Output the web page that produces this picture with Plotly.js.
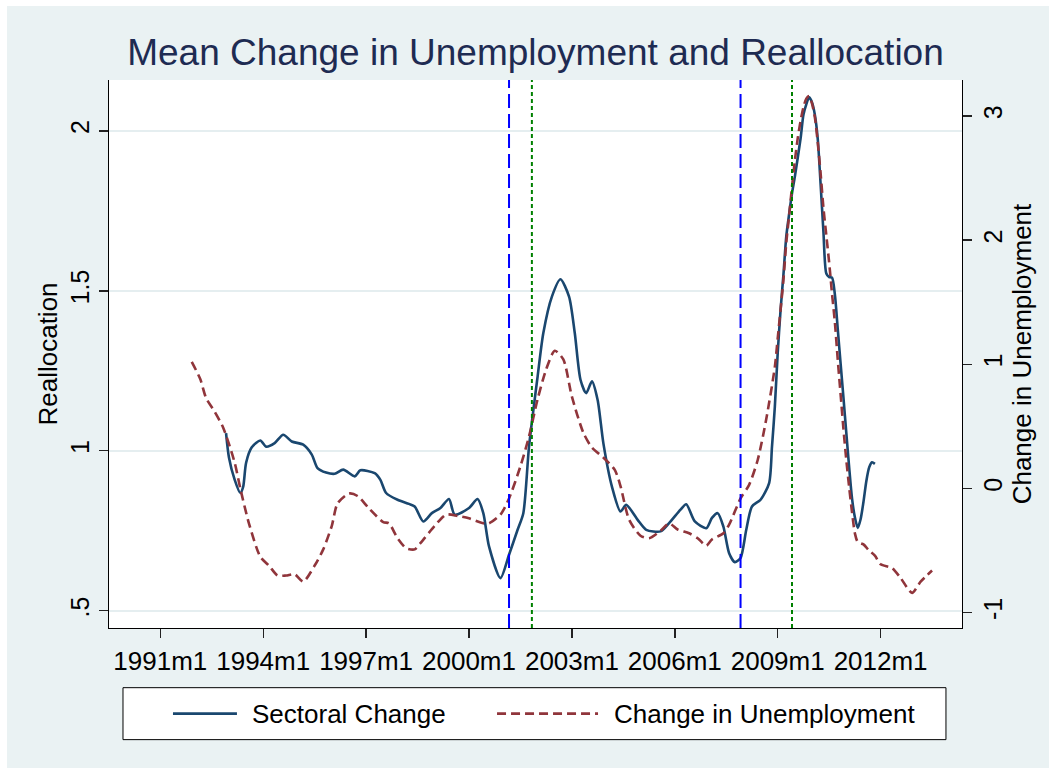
<!DOCTYPE html>
<html>
<head>
<meta charset="utf-8">
<script src="https://cdn.plot.ly/plotly-3.0.1.min.js"></script>
<style>
html,body{margin:0;padding:0;background:#ffffff;}
#chart{position:absolute;left:7px;top:6px;width:1042px;height:762px;}
</style>
</head>
<body>
<div id="chart"></div>
<script>
// ---- data (Stata monthly dates) ----
const sectoralDates = ["1992m12","1993m1","1993m3","1993m5","1993m6","1993m7","1993m9","1993m12","1994m2","1994m5","1994m8","1994m11","1995m3","1995m6","1995m8","1995m11","1996m2","1996m5","1996m9","1996m11","1997m4","1997m6","1997m8","1997m12","1998m4","1998m6","1998m9","1998m12","1999m3","1999m6","1999m8","2000m1","2000m4","2000m6","2000m8","2000m12","2001m3","2001m6","2001m8","2001m10","2002m1","2002m3","2002m6","2002m9","2002m12","2003m2","2003m4","2003m6","2003m8","2003m10","2003m12","2004m3","2004m6","2004m8","2004m12","2005m3","2005m8","2005m11","2006m3","2006m5","2006m8","2006m12","2007m2","2007m4","2007m6","2007m8","2007m10","2007m12","2008m2","2008m4","2008m7","2008m10","2008m11","2008m12","2009m1","2009m2","2009m3","2009m4","2009m5","2009m6","2009m7","2009m9","2009m10","2009m11","2009m12","2010m1","2010m2","2010m3","2010m4","2010m5","2010m6","2010m7","2010m8","2010m9","2010m10","2010m11","2010m12","2011m1","2011m2","2011m3","2011m4","2011m5","2011m6","2011m7","2011m8","2011m9","2011m10","2011m11"];
const sectoralValues = [1.055,0.98,0.91,0.868,0.888,0.962,1.011,1.032,1.013,1.024,1.05,1.029,1.019,0.988,0.946,0.932,0.928,0.941,0.92,0.939,0.93,0.909,0.868,0.847,0.834,0.826,0.779,0.805,0.821,0.849,0.80,0.821,0.849,0.805,0.701,0.602,0.675,0.753,0.805,1.013,1.232,1.368,1.482,1.536,1.482,1.368,1.222,1.18,1.217,1.159,1.024,0.888,0.81,0.831,0.784,0.753,0.748,0.774,0.816,0.833,0.779,0.758,0.79,0.805,0.763,0.68,0.652,0.665,0.753,0.826,0.847,0.899,1.013,1.138,1.306,1.44,1.55,1.67,1.74,1.805,1.857,1.976,2.05,2.083,2.105,2.089,2.05,1.976,1.835,1.684,1.554,1.543,1.541,1.489,1.381,1.273,1.166,1.056,0.948,0.851,0.792,0.759,0.786,0.84,0.905,0.948,0.964,0.959];

const unempDates = ["1991m12","1992m3","1992m5","1992m8","1992m11","1993m3","1993m5","1993m8","1993m12","1994m3","1994m6","1994m9","1994m12","1995m3","1995m7","1995m10","1996m1","1996m3","1996m7","1996m10","1997m2","1997m7","1997m9","1997m12","1998m3","1998m6","1998m8","1999m1","1999m5","1999m9","2000m1","2000m6","2000m8","2000m12","2001m3","2001m7","2001m10","2002m1","2002m4","2002m7","2002m10","2003m1","2003m5","2003m8","2003m12","2004m4","2004m6","2004m9","2005m1","2005m4","2005m8","2005m11","2006m2","2006m6","2006m9","2006m12","2007m2","2007m6","2007m8","2007m12","2008m3","2008m6","2008m9","2008m12","2009m1","2009m2","2009m3","2009m4","2009m5","2009m6","2009m7","2009m8","2009m9","2009m10","2009m11","2009m12","2010m1","2010m2","2010m3","2010m4","2010m5","2010m6","2010m7","2010m8","2010m9","2010m10","2010m11","2010m12","2011m1","2011m2","2011m3","2011m4","2011m5","2011m7","2011m9","2011m11","2012m1","2012m5","2012m8","2012m12","2013m3","2013m7"];
const unempValues = [1.02,0.88,0.73,0.62,0.49,0.21,0.00,-0.28,-0.55,-0.62,-0.70,-0.70,-0.69,-0.75,-0.62,-0.49,-0.30,-0.12,-0.04,-0.06,-0.16,-0.27,-0.28,-0.40,-0.48,-0.49,-0.44,-0.30,-0.21,-0.22,-0.24,-0.28,-0.28,-0.21,-0.08,0.18,0.42,0.72,0.96,1.11,1.04,0.74,0.45,0.33,0.25,0.15,0.02,-0.25,-0.38,-0.40,-0.34,-0.28,-0.33,-0.36,-0.40,-0.46,-0.41,-0.36,-0.29,-0.08,0.03,0.23,0.56,0.98,1.21,1.44,1.68,1.98,2.20,2.43,2.64,2.82,2.96,3.07,3.14,3.16,3.10,2.99,2.79,2.54,2.26,2.04,1.82,1.57,1.34,1.04,0.76,0.48,0.23,0.01,-0.19,-0.36,-0.43,-0.45,-0.50,-0.54,-0.61,-0.64,-0.72,-0.84,-0.75,-0.66];

const recessionStarts = ["2001m3","2007m12"];
const recessionEnds = ["2001m11","2009m6"];

const xTickLabels = ["1991m1","1994m1","1997m1","2000m1","2003m1","2006m1","2009m1","2012m1"];
const leftTickVals = [0.5,1,1.5,2];
const leftTickText = [".5","1","1.5","2"];
const rightTickVals = [-1,0,1,2,3];
const rightTickText = ["-1","0","1","2","3"];
const seriesNames = ["Sectoral Change","Change in Unemployment"];

// ---- helpers ----
function tm(s){ const p = s.split("m"); return Number(p[0]) + (Number(p[1]) - 1) / 12; }

const FONT = "Liberation Sans, Arial, Helvetica, sans-serif";
const NAVY = "#1a476f";
const MAROON = "#90353b";

const traces = [
  {x: sectoralDates.map(tm), y: sectoralValues, type: "scatter", mode: "lines",
   name: seriesNames[0], line: {color: NAVY, width: 2.6, shape: "spline", smoothing: 0.7}, yaxis: "y", hoverinfo: "skip"},
  {x: unempDates.map(tm), y: unempValues, type: "scatter", mode: "lines",
   name: seriesNames[1], line: {color: MAROON, width: 2.6, dash: "9px,5px", shape: "spline", smoothing: 0.7}, yaxis: "y2", hoverinfo: "skip"}
];

const shapes = [];
recessionStarts.forEach(d => shapes.push({type: "line", xref: "x", yref: "paper", x0: tm(d), x1: tm(d), y0: 0, y1: 1,
  line: {color: "#0000ff", width: 2, dash: "14px,6px"}}));
recessionEnds.forEach(d => shapes.push({type: "line", xref: "x", yref: "paper", x0: tm(d), x1: tm(d), y0: 0, y1: 1,
  line: {color: "#008000", width: 2, dash: "4px,3px"}}));

// custom legend (box + samples)
const LY = -0.1563;
shapes.push({type: "rect", xref: "paper", yref: "paper", x0: 0.0164, x1: 0.9812, y0: -0.2037, y1: -0.1089,
  line: {color: "#000", width: 1}, fillcolor: "#ffffff", layer: "below"});
shapes.push({type: "line", xref: "paper", yref: "paper", x0: 0.075, x1: 0.150, y0: LY, y1: LY,
  line: {color: NAVY, width: 2.6}});
shapes.push({type: "line", xref: "paper", yref: "paper", x0: 0.4549, x1: 0.5733, y0: LY, y1: LY,
  line: {color: MAROON, width: 2.6, dash: "9px,5px"}});

const annotations = [
  {xref: "paper", yref: "paper", x: 0.1653, y: LY, xanchor: "left", yanchor: "middle", showarrow: false,
   text: seriesNames[0], font: {family: FONT, size: 26, color: "#000"}},
  {xref: "paper", yref: "paper", x: 0.5897, y: LY, xanchor: "left", yanchor: "middle", showarrow: false,
   text: seriesNames[1], font: {family: FONT, size: 26, color: "#000"}}
];

const layout = {
  width: 1042, height: 762,
  paper_bgcolor: "#eaf2f3", plot_bgcolor: "#ffffff",
  margin: {l: 102, r: 87, t: 74, b: 140, pad: 0},
  showlegend: false,
  font: {family: FONT, color: "#000"},
  title: {text: "Mean Change in Unemployment and Reallocation", font: {family: FONT, size: 37, color: "#1e2b52"},
          x: 0.5, xref: "paper", xanchor: "center", y: 1 - 46 / 762, yref: "container", yanchor: "middle"},
  xaxis: {range: [1989.504, 2014.373], tickmode: "array", tickvals: xTickLabels.map(tm), ticktext: xTickLabels,
          ticks: "outside", ticklen: 9, tickwidth: 1.4, tickcolor: "#222", showline: true, linecolor: "#000", linewidth: 1.4,
          showgrid: false, zeroline: false, tickfont: {family: FONT, size: 26, color: "#000"}, fixedrange: true},
  yaxis: {range: [0.446, 2.159], tickmode: "array", tickvals: leftTickVals, ticktext: leftTickText, tickangle: -90,
          ticks: "outside", ticklen: 9, tickwidth: 1.4, tickcolor: "#222", showline: true, linecolor: "#000", linewidth: 1.4,
          showgrid: true, gridcolor: "#e5eef0", gridwidth: 2, zeroline: false,
          tickfont: {family: FONT, size: 25, color: "#000"},
          title: {text: "Reallocation", font: {family: FONT, size: 26, color: "#000"}, standoff: 0}},
  yaxis2: {overlaying: "y", side: "right", range: [-1.123, 3.29], tickmode: "array", tickvals: rightTickVals, ticktext: rightTickText,
          tickangle: -90, ticks: "outside", ticklen: 9, tickwidth: 1.4, tickcolor: "#222", showline: true, linecolor: "#000", linewidth: 1.4,
          showgrid: false, zeroline: false, tickfont: {family: FONT, size: 25, color: "#000"},
          title: {text: "Change in Unemployment", font: {family: FONT, size: 26, color: "#000"}, standoff: 2}},
  shapes: shapes,
  annotations: annotations
};

Plotly.newPlot("chart", traces, layout, {displayModeBar: false, staticPlot: true});
</script>
</body>
</html>
